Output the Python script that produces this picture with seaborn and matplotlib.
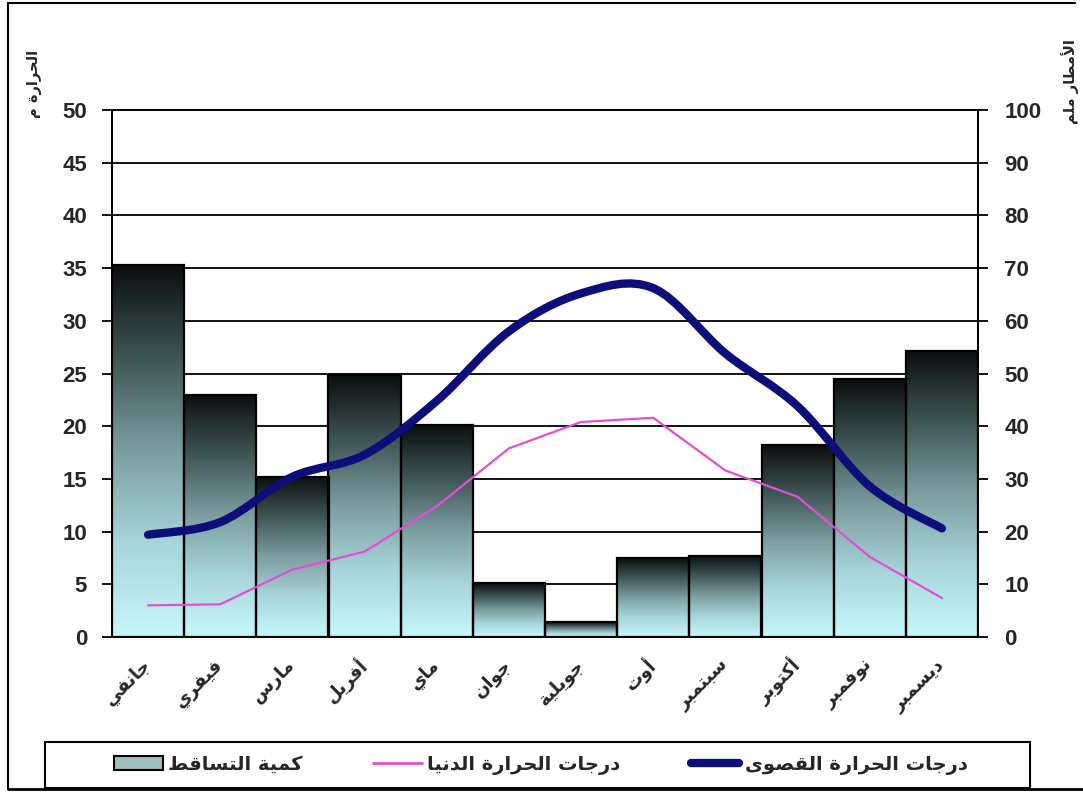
import numpy as np
import pandas as pd
import matplotlib
matplotlib.use('Agg')
import matplotlib.pyplot as plt
import seaborn as sns
from matplotlib.path import Path
from matplotlib.patches import PathPatch, Patch, Rectangle
from matplotlib.lines import Line2D
from matplotlib.colors import LinearSegmentedColormap

# ---------------- data ----------------
months = ['جانفي', 'فيفري', 'مارس', 'أفريل', 'ماي', 'جوان',
          'جويلية', 'أوت', 'سبتمبر', 'أكتوبر', 'نوفمبر', 'ديسمبر']
precip_mm = [70.5, 46.0, 30.4, 49.7, 40.2, 10.2, 2.8, 14.9, 15.4, 36.4, 48.9, 54.3]
tmax_c = [9.7, 10.9, 15.2, 17.3, 22.4, 29.0, 32.6, 33.1, 26.9, 21.9, 14.3, 10.3]
tmin_c = [3.0, 3.1, 6.4, 8.1, 12.4, 17.9, 20.4, 20.8, 15.8, 13.3, 7.6, 3.7]
temp_ticks = list(range(0, 51, 5))
rain_ticks = list(range(0, 101, 10))
label_precip = 'كمية التساقط'
label_tmin = 'درجات الحرارة الدنيا'
label_tmax = 'درجات الحرارة القصوى'
title_left = 'الحرارة م'
title_right = 'الأمطار ملم'

# ---------------- minimal Arabic shaping (presentation forms + RTL) ----------------
_F = {
    'ا': ('\uFE8D', '\uFE8E', None, None),
    'أ': ('\uFE83', '\uFE84', None, None),
    'ب': ('\uFE8F', '\uFE90', '\uFE91', '\uFE92'),
    'ة': ('\uFE93', '\uFE94', None, None),
    'ت': ('\uFE95', '\uFE96', '\uFE97', '\uFE98'),
    'ج': ('\uFE9D', '\uFE9E', '\uFE9F', '\uFEA0'),
    'ح': ('\uFEA1', '\uFEA2', '\uFEA3', '\uFEA4'),
    'د': ('\uFEA9', '\uFEAA', None, None),
    'ر': ('\uFEAD', '\uFEAE', None, None),
    'س': ('\uFEB1', '\uFEB2', '\uFEB3', '\uFEB4'),
    'ص': ('\uFEB9', '\uFEBA', '\uFEBB', '\uFEBC'),
    'ط': ('\uFEC1', '\uFEC2', '\uFEC3', '\uFEC4'),
    'ف': ('\uFED1', '\uFED2', '\uFED3', '\uFED4'),
    'ق': ('\uFED5', '\uFED6', '\uFED7', '\uFED8'),
    'ك': ('\uFED9', '\uFEDA', '\uFEDB', '\uFEDC'),
    'ل': ('\uFEDD', '\uFEDE', '\uFEDF', '\uFEE0'),
    'م': ('\uFEE1', '\uFEE2', '\uFEE3', '\uFEE4'),
    'ن': ('\uFEE5', '\uFEE6', '\uFEE7', '\uFEE8'),
    'و': ('\uFEED', '\uFEEE', None, None),
    'ى': ('\uFEEF', '\uFEF0', '\uFBE8', '\uFBE9'),
    'ي': ('\uFEF1', '\uFEF2', '\uFEF3', '\uFEF4'),
    'LA': ('\uFEFB', '\uFEFC', None, None),
    'LAH': ('\uFEF7', '\uFEF8', None, None),
}


def shape(text):
    seq, i = [], 0
    while i < len(text):
        c = text[i]
        if c == 'ل' and i + 1 < len(text) and text[i + 1] in ('ا', 'أ'):
            seq.append('LA' if text[i + 1] == 'ا' else 'LAH')
            i += 2
        else:
            seq.append(c)
            i += 1
    res = []
    for k, c in enumerate(seq):
        if c not in _F:
            res.append(c)
            continue
        prev = seq[k - 1] if k > 0 else None
        nxt = seq[k + 1] if k + 1 < len(seq) else None
        cp = prev in _F and _F[prev][2] is not None
        cn = _F[c][2] is not None and nxt in _F
        iso, fin, ini, med = _F[c]
        res.append(med if (cp and cn) else fin if cp else ini if cn else iso)
    return ''.join(reversed(res))


# ---------------- figure ----------------
sns.set_theme(style='white')
plt.rcParams['font.family'] = ['Liberation Sans', 'DejaVu Sans']
AR = ['DejaVu Sans']

W, H = 1083, 792
fig = plt.figure(figsize=(W / 100, H / 100), dpi=100)
ax = fig.add_axes([112 / W, 1 - 637 / H, (978 - 112) / W, (637 - 110) / H])
ax_t = ax.twinx()

df = pd.DataFrame({'month': months, 'precip': precip_mm, 'tmax': tmax_c, 'tmin': tmin_c})
df['pos'] = np.arange(len(df))

# ---- precipitation bars (right axis) ----
sns.barplot(data=df, x='month', y='precip', ax=ax, width=1.0, color='#8fb0b1',
            edgecolor='black', linewidth=1.6, zorder=2, saturation=1)

cmap = LinearSegmentedColormap.from_list('grad', ['#c6f8fc', '#a8d6da', '#7c9e9f', '#3f5555', '#0b0e0e'])
grad = np.linspace(0, 1, 256).reshape(-1, 1)
for p in list(ax.patches):
    x0, y0, w, h = p.get_x(), p.get_y(), p.get_width(), p.get_height()
    im = ax.imshow(grad, extent=[x0, x0 + w, y0, y0 + h], origin='lower', aspect='auto',
                   cmap=cmap, zorder=1.5, interpolation='bilinear')
    im.set_clip_path(p)
    p.set_facecolor('none')
    p.set_zorder(2.5)

ax.set_xlim(-0.5, 11.5)
ax.set_ylim(0, 100)
ax.set_xlabel('')
ax.set_ylabel('')
ax.grid(axis='y', color='black', linewidth=1.3)
ax.grid(axis='x', visible=False)
ax.set_axisbelow(True)

ax.set_xticks(range(12))
ax.set_xticklabels([shape(m) for m in months], rotation=45, ha='right', va='center',
                   rotation_mode='anchor', family=AR, fontweight='bold', fontsize=13)
ax.set_xticks(np.arange(-0.5, 12, 1), minor=True)
ax.tick_params(axis='x', which='major', length=0, pad=18)
ax.tick_params(axis='x', which='minor', length=6, width=1.3, color='black', direction='out')

ax.yaxis.tick_right()
ax.set_yticks(rain_ticks)
ax.tick_params(axis='y', which='major', length=7, width=1.3, color='black', direction='out',
               labelsize=16, pad=12, right=True, left=False, labelright=True, labelleft=False)
for t in ax.get_yticklabels():
    t.set_fontweight('bold')

# ---- temperature axis (left) ----
ax_t.set_ylim(0, 50)
ax_t.yaxis.tick_left()
ax_t.set_yticks(temp_ticks)
ax_t.tick_params(axis='y', which='major', length=7, width=1.3, color='black', direction='out',
                 labelsize=16, pad=11, left=True, right=False, labelleft=True, labelright=False)
for t in ax_t.get_yticklabels():
    t.set_fontweight('bold')
ax_t.tick_params(axis='x', which='both', bottom=False, labelbottom=False)

pink = '#e24fd4'
navy = '#0e0e7a'
sns.lineplot(data=df, x='pos', y='tmin', ax=ax_t, color=pink, linewidth=1.6, zorder=4)

# smoothed max-temperature curve (Bezier through the data points)
xs = df['pos'].to_numpy(dtype=float)
ys = df['tmax'].to_numpy(dtype=float)
n = len(xs)
verts = [(xs[0], ys[0])]
codes = [Path.MOVETO]
for i in range(n - 1):
    pm = (xs[max(i - 1, 0)], ys[max(i - 1, 0)])
    p0 = (xs[i], ys[i])
    p1 = (xs[i + 1], ys[i + 1])
    p2 = (xs[min(i + 2, n - 1)], ys[min(i + 2, n - 1)])
    c1 = (p0[0] + (p1[0] - pm[0]) / 6, p0[1] + (p1[1] - pm[1]) / 6)
    c2 = (p1[0] - (p2[0] - p0[0]) / 6, p1[1] - (p2[1] - p0[1]) / 6)
    verts += [c1, c2, p1]
    codes += [Path.CURVE4] * 3
ax_t.add_patch(PathPatch(Path(verts, codes), fill=False, edgecolor=navy, linewidth=6,
                         capstyle='round', joinstyle='round', zorder=5))
ax_t.set_xlim(-0.5, 11.5)
ax_t.set_xlabel('')
ax_t.set_ylabel('')

for a in (ax, ax_t):
    for s in a.spines.values():
        s.set_color('black')
        s.set_linewidth(1.3)

# axis titles
fig.text(35 / W, 1 - 84 / H, shape(title_left), rotation=90, ha='center', va='center',
         family=AR, fontweight='bold', fontsize=10.5)
fig.text(1070 / W, 1 - 82 / H, shape(title_right), rotation=90, ha='center', va='center',
         family=AR, fontweight='bold', fontsize=10.5)

# legend (frame drawn as a separate wide box, like the reference)
h_bar = Patch(facecolor='#9dbfbf', edgecolor='black', linewidth=1.5)
h_min = Line2D([], [], color=pink, linewidth=2)
h_max = Line2D([], [], color=navy, linewidth=6)
leg = fig.legend([h_bar, h_min, h_max], [shape(label_precip), shape(label_tmin), shape(label_tmax)],
                 loc='center', bbox_to_anchor=(541 / W, 1 - 765 / H),
                 ncol=3, frameon=False,
                 prop={'family': AR, 'weight': 'bold', 'size': 14}, handlelength=2.5,
                 handletextpad=0.3, columnspacing=3.6, borderpad=0.55)
fig.add_artist(Rectangle((45 / W, 1 - 788 / H), 985 / W, 46 / H, transform=fig.transFigure,
                         fill=False, edgecolor='black', linewidth=1.5))

# outer border
fig.add_artist(Line2D([8 / W, 8 / W], [1 - 789 / H, 1 - 3 / H], transform=fig.transFigure, color='black', lw=1.5))
fig.add_artist(Line2D([8 / W, 1 - 8 / W], [1 - 3 / H, 1 - 3 / H], transform=fig.transFigure, color='black', lw=1.5))
fig.add_artist(Line2D([8 / W, 1], [1 - 789 / H, 1 - 789 / H], transform=fig.transFigure, color='black', lw=2))

fig.savefig('out.png', dpi=100)
